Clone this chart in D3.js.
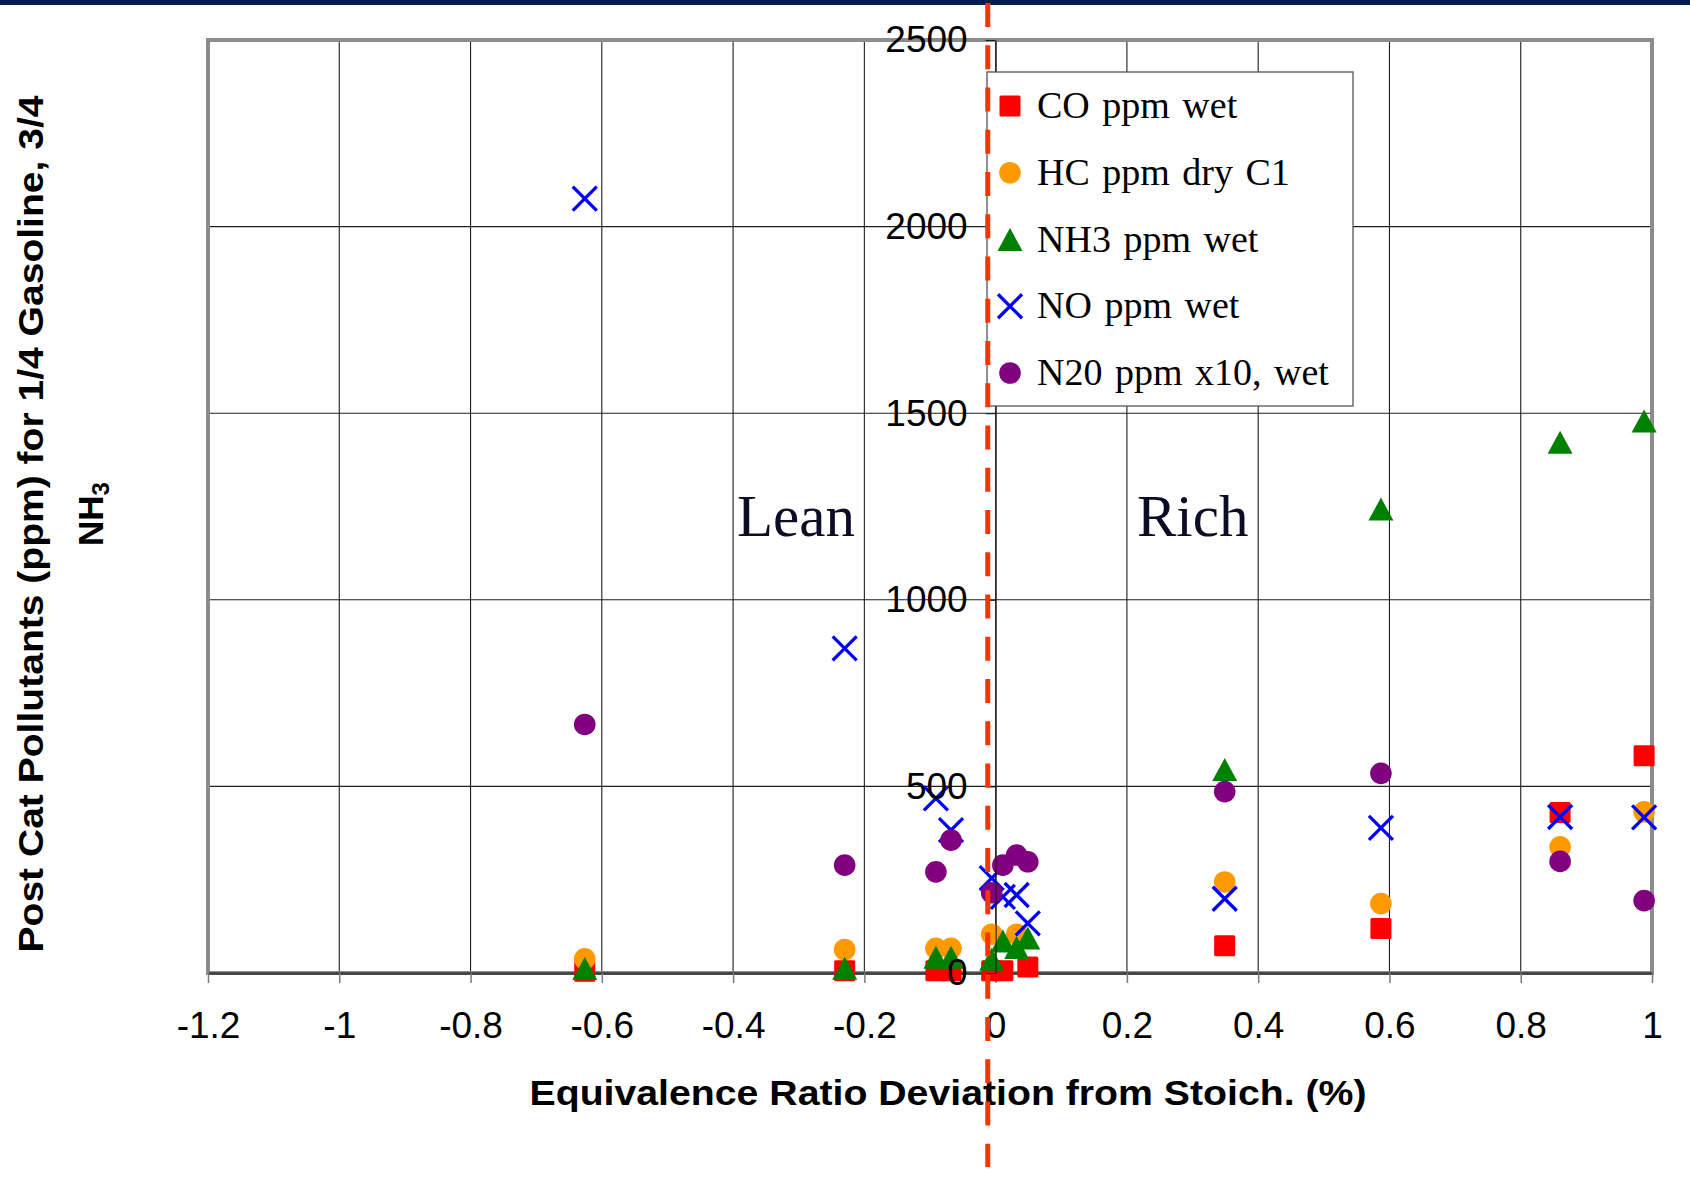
<!DOCTYPE html>
<html>
<head>
<meta charset="utf-8">
<script src="https://cdn.jsdelivr.net/npm/d3@7"></script>
<style>
  html, body { margin: 0; padding: 0; background: #fff; }
  svg { display: block; }
</style>
</head>
<body>
<svg id="chart" width="1690" height="1178"></svg>
<script>
// ---------------- data ----------------
const xValues = [-0.626, -0.23, -0.091, -0.068, -0.006, 0.011, 0.032, 0.049, 0.349, 0.587, 0.86, 0.988];
const coValues  = [5, 6, 6, 6, 6, 6, null, 16, 73, 119, 430, 582];
const hcValues  = [38, 63, 66, 66, 104, null, 104, null, 244, 186, 338, 432];
const nh3Values = [12, 13, 42, 42, 37, 86, 68, 94, 545, 1243, 1422, 1479];
const noValues  = [2075, 870, 468, 383, 254, 204, 209, 133, 199, 389, 418, 417];
const n2oValues = [666, 289, 271, 356, 215, 289, 316, 298, 486, 535, 299, 194];

const seriesNames = ["CO ppm wet", "HC ppm dry C1", "NH3 ppm wet", "NO ppm wet", "N20 ppm x10, wet"];
const xTicks = [-1.2, -1, -0.8, -0.6, -0.4, -0.2, 0, 0.2, 0.4, 0.6, 0.8, 1];
const xTickLabels = ["-1.2", "-1", "-0.8", "-0.6", "-0.4", "-0.2", "0", "0.2", "0.4", "0.6", "0.8", "1"];
const yTicks = [0, 500, 1000, 1500, 2000, 2500];
const yTickLabels = ["0", "500", "1000", "1500", "2000", "2500"];
const stoichLine = -0.012;
const xTitle = "Equivalence Ratio Deviation from Stoich. (%)";
const yTitleLine1 = "Post Cat Pollutants (ppm) for 1/4 Gasoline, 3/4";

// ---------------- setup ----------------
const svg = d3.select("#chart");
const x = d3.scaleLinear().domain([-1.2, 1]).range([208, 1652]);
const y = d3.scaleLinear().domain([0, 2500]).range([973, 40]);

const series = [
  { name: seriesNames[0], values: coValues,  shape: "square",   color: "#FF0000" },
  { name: seriesNames[1], values: hcValues,  shape: "circle",   color: "#FF9900" },
  { name: seriesNames[2], values: nh3Values, shape: "triangle", color: "#008000" },
  { name: seriesNames[3], values: noValues,  shape: "x",        color: "#0000FF" },
  { name: seriesNames[4], values: n2oValues, shape: "circle",   color: "#800080" }
];

svg.append("rect").attr("width", 1690).attr("height", 1178).attr("fill", "#fff");
// top navy strip
svg.append("rect").attr("x", 0).attr("y", 0).attr("width", 1690).attr("height", 5).attr("fill", "#001c50");

// gridlines
const grid = svg.append("g").attr("stroke", "#1e1e1e").attr("stroke-width", 1.1);
grid.selectAll("line.v").data(xTicks).enter().append("line")
  .attr("x1", d => x(d)).attr("x2", d => x(d))
  .attr("y1", y(2500)).attr("y2", y(0));
grid.selectAll("line.h").data(yTicks).enter().append("line")
  .attr("x1", x(-1.2)).attr("x2", x(1))
  .attr("y1", d => y(d)).attr("y2", d => y(d));

// plot border
svg.append("rect")
  .attr("x", x(-1.2)).attr("y", y(2500))
  .attr("width", x(1) - x(-1.2)).attr("height", y(0) - y(2500))
  .attr("fill", "none").attr("stroke", "#8c8c8c").attr("stroke-width", 4);

// x axis
const xAxis = svg.append("g")
  .attr("transform", `translate(0,${y(0)})`)
  .call(d3.axisBottom(x).tickValues(xTicks).tickFormat((d, i) => xTickLabels[i])
        .tickSize(10).tickSizeOuter(0).tickPadding(29));
xAxis.select(".domain").attr("stroke", "#3c3c3c").attr("stroke-width", 2.5);
xAxis.selectAll(".tick line").attr("stroke", "#7a7a7a").attr("stroke-width", 1.5);
xAxis.selectAll(".tick text")
  .attr("font-family", "'Liberation Sans', Arial, sans-serif")
  .attr("font-size", 37).attr("fill", "#000");

// Lean / Rich annotations
svg.append("text").attr("x", 737).attr("y", 536)
  .attr("font-family", "'Liberation Serif', 'Times New Roman', serif")
  .attr("font-size", 59).attr("fill", "#0c0c26").text("Lean");
svg.append("text").attr("x", 1137).attr("y", 536)
  .attr("font-family", "'Liberation Serif', 'Times New Roman', serif")
  .attr("font-size", 59).attr("fill", "#0c0c26").text("Rich");

// markers
function drawMarker(g, shape, color) {
  if (shape === "square") {
    g.append("rect").attr("x", -10.5).attr("y", -10.5).attr("width", 21).attr("height", 21)
      .attr("rx", 1.5).attr("fill", color);
  } else if (shape === "circle") {
    g.append("circle").attr("r", 10.8).attr("fill", color);
  } else if (shape === "triangle") {
    g.append("path").attr("d", "M0,-11.5L12.5,11.5L-12.5,11.5Z").attr("fill", color);
  } else if (shape === "x") {
    g.append("path").attr("d", "M-12,-12L12,12M-12,12L12,-12")
      .attr("stroke", color).attr("stroke-width", 3.3).attr("fill", "none");
  }
}

const marks = svg.append("g");
series.forEach(s => {
  const pts = xValues.map((xv, i) => ({ x: xv, y: s.values[i] })).filter(p => p.y !== null);
  const sg = marks.append("g");
  sg.selectAll("g").data(pts).enter().append("g")
    .attr("transform", d => `translate(${x(d.x)},${y(d.y)})`)
    .each(function () { drawMarker(d3.select(this), s.shape, s.color); });
});

// y axis (at x = 0) with labels
const yAxis = svg.append("g")
  .attr("transform", `translate(${x(0)},0)`)
  .call(d3.axisLeft(y).tickValues(yTicks).tickFormat((d, i) => yTickLabels[i])
        .tickSize(10).tickSizeOuter(0).tickPadding(18));
yAxis.select(".domain").attr("stroke", "#1e1e1e").attr("stroke-width", 1.1);
yAxis.selectAll(".tick line").attr("stroke", "#1e1e1e").attr("stroke-width", 1.1);
yAxis.selectAll(".tick text")
  .attr("font-family", "'Liberation Sans', Arial, sans-serif")
  .attr("font-size", 37).attr("fill", "#000");

// axis titles
svg.append("text").attr("x", 948).attr("y", 1105)
  .attr("text-anchor", "middle")
  .attr("font-family", "'Liberation Sans', Arial, sans-serif")
  .attr("font-weight", "bold").attr("font-size", 35)
  .attr("textLength", 837).attr("lengthAdjust", "spacingAndGlyphs")
  .text(xTitle);

const yt = svg.append("g").attr("transform", "translate(0,524) rotate(-90)");
yt.append("text").attr("x", 0).attr("y", 43)
  .attr("text-anchor", "middle")
  .attr("font-family", "'Liberation Sans', Arial, sans-serif")
  .attr("font-weight", "bold").attr("font-size", 35)
  .attr("textLength", 857).attr("lengthAdjust", "spacingAndGlyphs")
  .text(yTitleLine1);
const nh = svg.append("g").attr("transform", "translate(0,514) rotate(-90)");
const nhText = nh.append("text").attr("x", 0).attr("y", 103)
  .attr("text-anchor", "middle")
  .attr("font-family", "'Liberation Sans', Arial, sans-serif")
  .attr("font-weight", "bold").attr("font-size", 35);
nhText.append("tspan").text("NH");
nhText.append("tspan").attr("font-size", 24).attr("dy", 6).text("3");

// legend
const legend = svg.append("g");
legend.append("rect").attr("x", 987).attr("y", 72).attr("width", 366).attr("height", 334)
  .attr("fill", "#fff").attr("stroke", "#555").attr("stroke-width", 1.3);
const rowY = d3.scaleLinear().domain([0, 4]).range([106, 373]);
series.forEach((s, i) => {
  const g = legend.append("g").attr("transform", `translate(1010,${rowY(i)})`);
  drawMarker(g, s.shape, s.color);
  legend.append("text").attr("x", 1037).attr("y", rowY(i) + 12)
    .attr("font-family", "'Liberation Serif', 'Times New Roman', serif")
    .attr("font-size", 38).attr("word-spacing", 3).attr("fill", "#000").text(s.name);
});

// stoichiometric dashed line
svg.append("line")
  .attr("x1", x(stoichLine)).attr("x2", x(stoichLine))
  .attr("y1", 3).attr("y2", 1167)
  .attr("stroke", "#FF3300").attr("stroke-width", 5)
  .attr("stroke-dasharray", "24,18.25");
</script>
</body>
</html>
